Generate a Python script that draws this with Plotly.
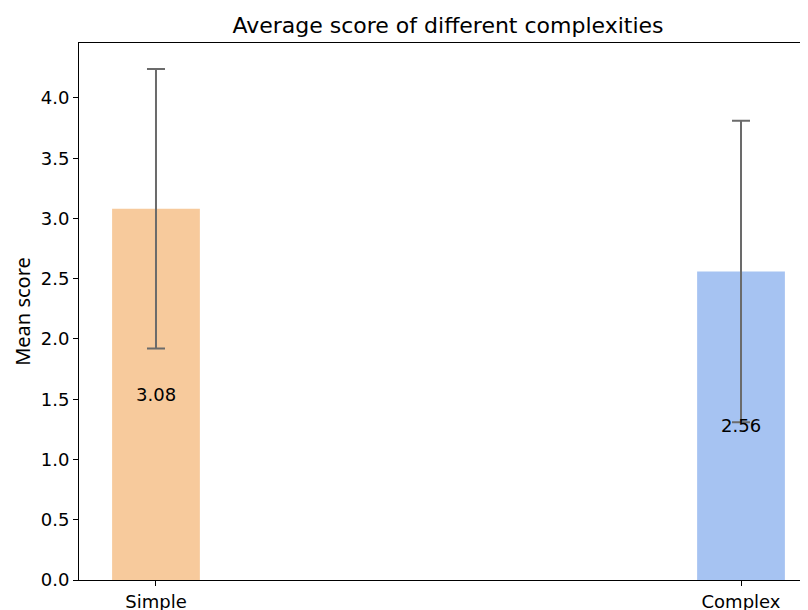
import plotly.graph_objects as go

categories = ["Simple", "Complex"]
mean_scores = [3.08, 2.56]
std_errors = [1.16, 1.25]
bar_colors = ["#F7CA9C", "#A6C3F2"]
value_labels = ["3.08", "2.56"]
y_ticks = [0.0, 0.5, 1.0, 1.5, 2.0, 2.5, 3.0, 3.5, 4.0]

x_pos = list(range(len(categories)))

fig = go.Figure()
fig.add_trace(go.Bar(
    x=x_pos, y=mean_scores, width=0.15,
    marker=dict(color=bar_colors, line=dict(width=0)),
    error_y=dict(type="data", array=std_errors, visible=True,
                 color="#6b6b6b", thickness=2, width=9),
    showlegend=False, hoverinfo="skip",
))

for xp, v, lab in zip(x_pos, mean_scores, value_labels):
    fig.add_annotation(x=xp, y=v / 2, text=lab, showarrow=False,
                       font=dict(size=18, color="black", family="DejaVu Sans"))

fig.update_layout(
    width=800, height=602,
    margin=dict(l=71, r=1, t=35, b=30),
    plot_bgcolor="white", paper_bgcolor="white",
    font=dict(family="DejaVu Sans", size=18, color="black"),
    title=dict(text="Average score of different complexities", x=0.55, xanchor="center",
               y=0.972, yanchor="middle", font=dict(size=22)),
    xaxis=dict(range=[-0.1316, 1.1128], tickvals=x_pos, ticktext=categories,
               showgrid=False, zeroline=False, showline=True, linecolor="black",
               linewidth=1, mirror=True, ticks="outside", ticklen=5,
               tickcolor="black", automargin=False),
    yaxis=dict(range=[0, 4.456], tickvals=y_ticks,
               ticktext=[f"{t:.1f}" for t in y_ticks],
               showgrid=False, zeroline=False, showline=True, linecolor="black",
               linewidth=1, mirror=True, ticks="outside", ticklen=5,
               tickcolor="black", automargin=False,
               title=dict(text="Mean score", standoff=4,
                          font=dict(size=20, family="Noto Sans"))),
)

fig.write_html("out.html")
